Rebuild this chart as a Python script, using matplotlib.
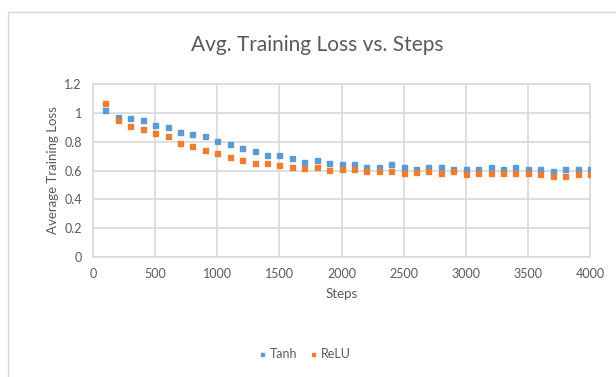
import matplotlib.pyplot as plt
from matplotlib.patches import Rectangle

plt.rcParams['font.family'] = ['Lato', 'DejaVu Sans']

steps = list(range(100, 4100, 100))
tanh = [1.018, 0.972, 0.961, 0.947, 0.913, 0.901, 0.864, 0.853, 0.841, 0.805,
        0.782, 0.756, 0.733, 0.710, 0.710, 0.685, 0.662, 0.674, 0.651, 0.648,
        0.648, 0.625, 0.625, 0.648, 0.625, 0.611, 0.625, 0.625, 0.611, 0.611,
        0.611, 0.625, 0.611, 0.625, 0.611, 0.611, 0.600, 0.611, 0.611, 0.611]
relu = [1.067, 0.947, 0.910, 0.887, 0.862, 0.839, 0.793, 0.768, 0.745, 0.722,
        0.697, 0.674, 0.651, 0.651, 0.639, 0.625, 0.614, 0.625, 0.602, 0.611,
        0.611, 0.600, 0.600, 0.600, 0.586, 0.593, 0.600, 0.586, 0.600, 0.575,
        0.586, 0.586, 0.586, 0.586, 0.586, 0.575, 0.563, 0.563, 0.575, 0.575]

txt = '#595959'
grid = '#D9D9D9'

fig = plt.figure(figsize=(6.16, 3.77), dpi=100)
fig.patches.append(Rectangle((8/616, -0.1), 1.2, 1 - 12/377 + 0.1, transform=fig.transFigure,
                             fill=False, edgecolor='#D9D9D9', linewidth=1.0))
ax = fig.add_axes([93/616, 1 - 257/377, 497/616, 173/377])

ax.plot(steps, tanh, 's', color='#5B9BD5', markersize=3.6, label='Tanh', zorder=3)
ax.plot(steps, relu, 's', color='#ED7D31', markersize=3.6, label='ReLU', zorder=3)

ax.set_xlim(0, 4000)
ax.set_ylim(0, 1.2)
ax.set_xticks(range(0, 4001, 500))
ax.set_yticks([0, 0.2, 0.4, 0.6, 0.8, 1, 1.2])
ax.set_yticklabels(['0', '0.2', '0.4', '0.6', '0.8', '1', '1.2'])
ax.grid(True, color=grid, linewidth=1.2)
ax.set_axisbelow(True)
for s in ax.spines.values():
    s.set_color(grid)
    s.set_linewidth(1.2)
ax.tick_params(length=0, colors=txt, labelsize=9, pad=8)

ax.set_xlabel('Steps', color=txt, fontsize=9.5, labelpad=6)
ax.set_ylabel('Average Training Loss', color=txt, fontsize=9.5, labelpad=4)
fig.text(317/616, 1 - 45/377, 'Avg. Training Loss vs. Steps', ha='center', va='center',
         color=txt, fontsize=15)

fig.legend(loc='center', bbox_to_anchor=(0.495, 1 - 354/377), ncol=2, frameon=False,
           fontsize=9, labelcolor=txt, handlelength=0.5, handletextpad=0.4,
           columnspacing=1.0, markerscale=0.6)

fig.savefig('out.png', dpi=100)
